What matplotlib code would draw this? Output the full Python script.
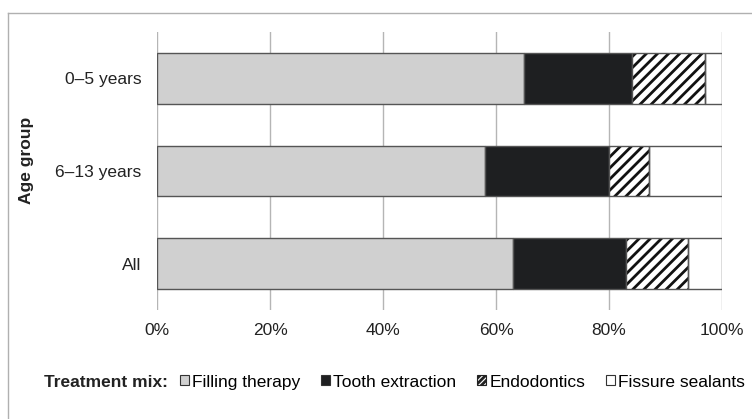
import matplotlib.pyplot as plt
from matplotlib.lines import Line2D
from matplotlib.patches import Patch

plt.rcParams['font.family'] = ['Liberation Sans', 'DejaVu Sans']
plt.rcParams['hatch.linewidth'] = 2.0

groups = ['0–5 years', '6–13 years', 'All']
treatments = ['Filling therapy', 'Tooth extraction', 'Endodontics', 'Fissure sealants']
filling = [65, 58, 63]
extraction = [19, 22, 20]
endodontics = [13, 7, 11]
sealants = [3, 13, 6]
x_ticks = [0, 20, 40, 60, 80, 100]

series = [filling, extraction, endodontics, sealants]
faces = ['#d0d0d0', '#1e1f21', 'white', 'white']
hatches = [None, None, '///', None]
edge_c = '#555555'
fs = 12.5

fig = plt.figure(figsize=(7.52, 4.19), dpi=100)
ax = fig.add_axes([157 / 752, 1 - 310 / 419, 565 / 752, 278 / 419])

ypos = list(range(len(groups)))
left = [0] * len(groups)
for vals, fc, h in zip(series, faces, hatches):
    if h:
        # black hatch first, then grey outline on top
        ax.barh(ypos, vals, left=left, height=0.55, color=fc, edgecolor='#111111',
                linewidth=0, hatch=h, zorder=3)
        ax.barh(ypos, vals, left=left, height=0.55, fill=False, edgecolor=edge_c,
                linewidth=1.0, zorder=4)
    else:
        ax.barh(ypos, vals, left=left, height=0.55, color=fc, edgecolor=edge_c,
                linewidth=1.0, zorder=3)
    left = [a + b for a, b in zip(left, vals)]

ax.set_xlim(0, 100)
ax.set_ylim(2.5, -0.5)
ax.set_xticks(x_ticks)
ax.set_xticklabels([f'{t}%' for t in x_ticks])
ax.set_yticks(ypos)
ax.set_yticklabels(groups)
ax.tick_params(length=0, labelsize=fs, colors='#222222', pad=11)
ax.tick_params(axis='x', pad=9)
ax.grid(axis='x', color='#b5b5b5', linewidth=1.0, zorder=0)
for s in ax.spines.values():
    s.set_visible(False)

fig.text(27 / 752, 1 - 160 / 419, 'Age group', rotation=90, ha='center', va='center',
         fontsize=fs, fontweight='bold', color='#222222')

# legend row
fig.text(44 / 752, 1 - 382 / 419, 'Treatment mix:', ha='left', va='center',
         fontsize=fs, fontweight='bold', color='#222222')
handles = [Patch(facecolor=fc, edgecolor='#333333', linewidth=0.8)
           for fc in faces]
handles[2] = Patch(facecolor='white', edgecolor='#222222', hatch='//////', linewidth=0.8)
fig.legend(handles, treatments, loc='center left', bbox_to_anchor=(180 / 752, 1 - 382 / 419),
           ncol=4, frameon=False, fontsize=fs, handlelength=0.5, handleheight=0.5,
           handletextpad=0.2, columnspacing=1.2, borderpad=0, borderaxespad=0)

# outer frame (top and left edges)
fig.add_artist(Line2D([8 / 752, 1], [1 - 13 / 419, 1 - 13 / 419], color='#b0b0b0',
                      linewidth=1.0, transform=fig.transFigure))
fig.add_artist(Line2D([8 / 752, 8 / 752], [0, 1 - 13 / 419], color='#b0b0b0',
                      linewidth=1.0, transform=fig.transFigure))

plt.savefig('out.png', dpi=100)
